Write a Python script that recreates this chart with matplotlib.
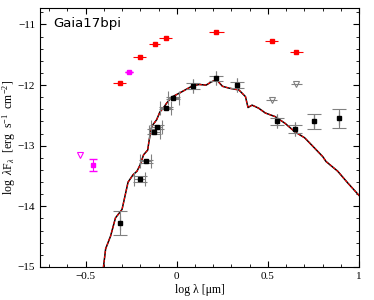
import matplotlib
matplotlib.use("Agg")
import matplotlib.pyplot as plt
from matplotlib.ticker import MultipleLocator

plt.rcParams['font.family'] = ['Liberation Serif', 'DejaVu Serif']
plt.rcParams['mathtext.fontset'] = 'custom'
plt.rcParams['mathtext.rm'] = 'Liberation Serif'
plt.rcParams['mathtext.it'] = 'Liberation Serif:italic'

# Red (early) photometry
red_x = [-0.312, -0.204, -0.121, -0.061, 0.218, 0.52, 0.655]
red_y = [-11.97, -11.53, -11.33, -11.22, -11.13, -11.28, -11.45]
red_xerr = [0.035, 0.035, 0.03, 0.035, 0.04, 0.035, 0.035]

# Magenta points
mag_x = [-0.262, -0.46]
mag_y = [-11.79, -13.32]
mag_yerr = [0.0, 0.1]
mag_ul_x = [-0.532]
mag_ul_y = [-13.15]

# Gray upper limits
ul_x = [0.52, 0.655]
ul_y = [-12.25, -11.98]

# Black (quiescent) photometry
blk_x = [-0.309, -0.202, -0.17, -0.123, -0.11, -0.061, -0.018, 0.09, 0.218, 0.33, 0.551, 0.646, 0.754, 0.89]
blk_y = [-14.27, -13.55, -13.26, -12.77, -12.69, -12.38, -12.21, -12.02, -11.89, -12.0, -12.6, -12.72, -12.6, -12.55]
blk_yerr = [0.2, 0.05, 0.02, 0.04, 0.04, 0.02, 0.02, 0.05, 0.04, 0.05, 0.05, 0.07, 0.12, 0.15]
blk_xerr = [0.0, 0.03, 0.03, 0.03, 0.03, 0.03, 0.03, 0.0, 0.0, 0.0, 0.0, 0.0, 0.0, 0.0]

# Model SED
mod_x = [-0.402, -0.39, -0.363, -0.336, -0.30, -0.267, -0.24, -0.218, -0.2, -0.182, -0.159,
         -0.155, -0.148, -0.137, -0.11, -0.092, -0.074, -0.056, -0.029, 0.016, 0.052, 0.088,
         0.125, 0.161, 0.188, 0.218, 0.251, 0.287, 0.341, 0.377, 0.391, 0.413, 0.449, 0.486,
         0.54, 0.594, 0.648, 0.702, 0.747, 0.801, 0.819, 0.883, 0.937, 1.0]
mod_y = [-15.0, -14.70, -14.49, -14.19, -14.05, -13.6, -13.48, -13.42, -13.31, -13.15, -13.07,
         -12.98, -12.85, -12.68, -12.57, -12.44, -12.38, -12.30, -12.20, -12.13, -12.07, -12.01,
         -11.99, -12.0, -11.95, -11.91, -12.02, -12.05, -12.08, -12.19, -12.37, -12.33, -12.38, -12.46,
         -12.52, -12.63, -12.77, -12.87, -13.01, -13.18, -13.26, -13.42, -13.61, -13.82]

fig = plt.figure(figsize=(3.74, 3.0), dpi=100)
ax = fig.add_axes([0.107, 0.11, 0.853, 0.863])

ax.plot(mod_x, mod_y, color='black', lw=1.1, zorder=2)
ax.plot(mod_x, mod_y, color='red', lw=0.8, zorder=2, dashes=(2.5, 1.5))

ax.errorbar(red_x, red_y, xerr=red_xerr, fmt='s', color='red', ms=3.5, elinewidth=0.8,
            capsize=0, zorder=3)
ax.errorbar(mag_x, mag_y, yerr=mag_yerr, fmt='s', color='magenta', ms=3.5, elinewidth=0.8,
            capsize=3, zorder=3)
ax.plot(mag_ul_x, mag_ul_y, 'v', mfc='none', mec='magenta', ms=4.5, mew=0.8)
ax.errorbar(ul_x, ul_y, xerr=0.03, fmt='v', mfc='none', mec='gray', ecolor='gray',
            ms=4.5, mew=0.8, elinewidth=0.8, capsize=0)
ax.errorbar(blk_x, blk_y, yerr=blk_yerr, xerr=blk_xerr, fmt='s', color='black', ms=3.5,
            ecolor='gray', elinewidth=0.8, capsize=5, capthick=0.8, zorder=4)

ax.set_xlim(-0.75, 1.0)
ax.set_ylim(-15, -10.73)
ax.xaxis.set_major_locator(MultipleLocator(0.5))
ax.xaxis.set_minor_locator(MultipleLocator(0.1))
ax.yaxis.set_major_locator(MultipleLocator(1))
ax.yaxis.set_minor_locator(MultipleLocator(0.2))
ax.tick_params(which='both', direction='in', top=True, right=True, labelsize=8)
ax.tick_params(which='major', length=4)
ax.tick_params(which='minor', length=2)
ax.xaxis.set_major_formatter(plt.FuncFormatter(lambda v, p: ('%g' % v).replace('-', '\u2212')))
ax.yaxis.set_major_formatter(plt.FuncFormatter(lambda v, p: ('%g' % v).replace('-', '\u2212')))

ax.set_xlabel('log \u03bb [\u03bcm]', fontsize=8.5, labelpad=2)
ax.set_ylabel(r'log  $\lambda$F$_\lambda$  [erg  s$^{-1}$  cm$^{-2}$]', fontsize=8.5)
ax.yaxis.set_label_coords(-0.07, 0.5)
ax.text(0.04, 0.94, 'Gaia17bpi', transform=ax.transAxes, fontsize=9.5,
        family='DejaVu Sans', va='center', ha='left')

fig.savefig('out.png', dpi=100)
